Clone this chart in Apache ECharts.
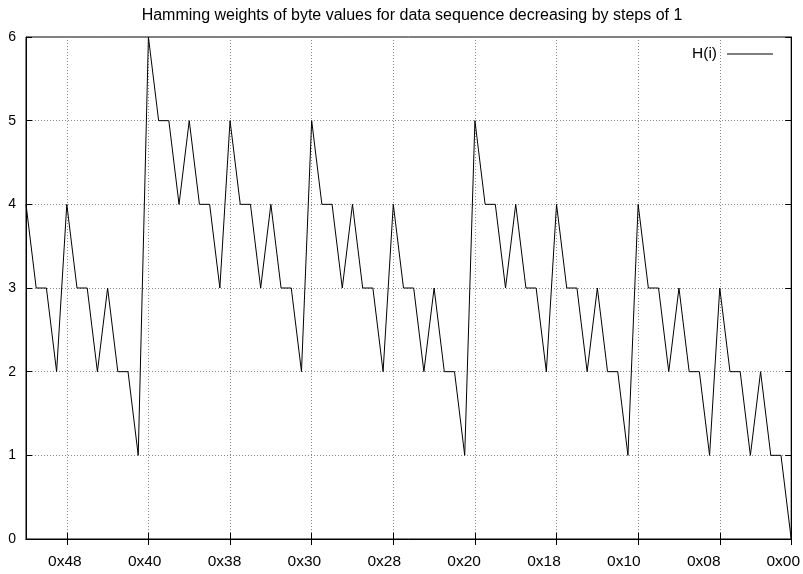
<!DOCTYPE html>
<html>
<head>
<meta charset="utf-8">
<script src="https://cdn.jsdelivr.net/npm/echarts@6/dist/echarts.min.js"></script>
<style>
html,body{margin:0;padding:0;background:#fff;}
#chart{width:803px;height:574px;}
</style>
</head>
<body>
<div id="chart"></div>
<script>
// positions along the x axis (left to right, decreasing)
var positions = [76,75,74,73,72,71,70,69,68,67,66,65,64,63,62,61,60,59,58,57,56,55,54,53,52,51,50,49,48,47,46,45,44,43,42,41,40,39,38,37,36,35,34,33,32,31,30,29,28,27,26,25,24,23,22,21,20,19,18,17,16,15,14,13,12,11,10,9,8,7,6,5,4,3,2,1];
// Hamming weights H(i)
var weights = [4,3,3,2,4,3,3,2,3,2,2,1,6,5,5,4,5,4,4,3,5,4,4,3,4,3,3,2,5,4,4,3,4,3,3,2,4,3,3,2,3,2,2,1,5,4,4,3,4,3,3,2,4,3,3,2,3,2,2,1,4,3,3,2,3,2,2,1,3,2,2,1,2,1,1,0];
// tick positions and their labels
var tickPositions = [72,64,56,48,40,32,24,16,8,1];
var tickLabels = ['0x48','0x40','0x38','0x30','0x28','0x20','0x18','0x10','0x08','0x00'];
var yTicks = [0,1,2,3,4,5,6];

// styling: leftward shift (px) of each x label relative to its tick
var labelShift = [2, 3.75, 5.5, 7.25, 9, 10.75, 12.5, 14.25, 16, 8];

var FONT = 'Liberation Sans';
var chart = echarts.init(document.getElementById('chart'));
var categories = positions.map(String);
function tickIndex(v){ return tickPositions.indexOf(Number(v)); }
function isTick(v){ return tickIndex(v) >= 0; }
var rich = {};
labelShift.forEach(function(d, k){
  rich['r' + k] = {padding: [0, 2 * d, 0, 0], fontFamily: FONT, fontSize: 15.5, color: '#000'};
});

var xBase = {
  type: 'category',
  data: categories,
  boundaryGap: false,
  axisLine: {show: true, lineStyle: {color: '#000', width: 1}},
  axisTick: {show: true, inside: true, length: 6, lineStyle: {color: '#000'}, interval: function(i, v){ return isTick(v); }},
  splitLine: {show: false}
};
var option = {
  animation: false,
  backgroundColor: '#fff',
  title: {
    text: 'Hamming weights of byte values for data sequence decreasing by steps of 1',
    left: 407, top: 3, textAlign: 'center',
    textStyle: {fontFamily: FONT, fontSize: 16, fontWeight: 'normal', color: '#000'}
  },
  legend: {
    show: true,
    right: 30, top: 46, padding: 0,
    align: 'right',
    icon: 'rect',
    itemWidth: 46, itemHeight: 1,
    textStyle: {fontFamily: FONT, fontSize: 15.5, color: '#000', padding: [0, 5, 0, 0]},
    data: [{name: 'H(i)', itemStyle: {color: '#000'}}]
  },
  grid: {left: 26, right: 10, top: 37, bottom: 35, show: true, borderColor: '#000', borderWidth: 1, containLabel: false},
  xAxis: [
    Object.assign({}, xBase, {
      position: 'bottom',
      splitLine: {show: true, interval: function(i, v){ return isTick(v) && Number(v) !== 1; }, lineStyle: {color: '#888', type: [1, 2], width: 1}},
      axisLabel: {
        show: true, margin: 15, color: '#000', fontFamily: FONT, fontSize: 15.5,
        interval: function(i, v){ return isTick(v); },
        formatter: function(v){ var k = tickIndex(v); return k >= 0 ? '{r' + k + '|' + tickLabels[k] + '}' : ''; },
        rich: rich
      }
    }),
    Object.assign({}, xBase, {position: 'top', axisLabel: {show: false}})
  ],
  yAxis: [
    {
      type: 'value', min: 0, max: 6, interval: 1, position: 'left',
      axisLine: {show: true, lineStyle: {color: '#000'}},
      axisTick: {show: true, inside: true, length: 6, lineStyle: {color: '#000'}},
      splitLine: {show: true, lineStyle: {color: '#888', type: [1, 2], width: 1}},
      axisLabel: {show: true, margin: 10, color: '#000', fontFamily: FONT, fontSize: 14, customValues: yTicks}
    },
    {
      type: 'value', min: 0, max: 6, interval: 1, position: 'right',
      axisLine: {show: true, lineStyle: {color: '#000'}},
      axisTick: {show: true, inside: true, length: 6, lineStyle: {color: '#000'}},
      splitLine: {show: false},
      axisLabel: {show: false}
    }
  ],
  series: [{
    name: 'H(i)',
    type: 'line',
    data: weights,
    xAxisIndex: 0, yAxisIndex: 0,
    symbol: 'none',
    lineStyle: {color: '#000', width: 1},
    itemStyle: {color: '#000'}
  }]
};
chart.setOption(option);
</script>
</body>
</html>
